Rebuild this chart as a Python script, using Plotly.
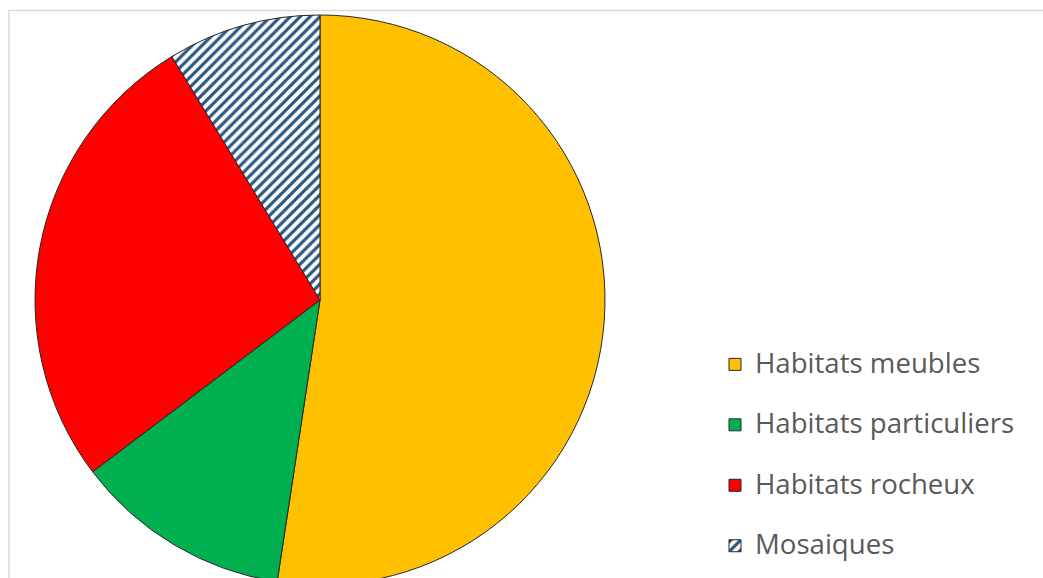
import plotly.graph_objects as go

categories = ["Habitats meubles", "Habitats particuliers", "Habitats rocheux", "Mosaiques"]
values = [52.4, 12.3, 26.6, 8.7]
colors = ["#FFC000", "#00B050", "#FF0000", "#FFFFFF"]
patterns = ["", "", "", "/"]

W, H = 1043, 590          # canvas a bit taller than the window: the pie is cut at the bottom
cx, cy, r = 320, 300, 285  # pie centre / radius in pixels

labels = [f"<span style='font-size:27.6px'>{c}</span><br> " for c in categories]

fig = go.Figure()
fig.add_trace(go.Pie(
    labels=labels,
    values=values,
    sort=False,
    direction="clockwise",
    rotation=0,
    textinfo="none",
    hoverinfo="percent",
    marker=dict(
        colors=colors,
        line=dict(color="#262626", width=1),
        pattern=dict(shape=patterns, fgcolor="#2A5683", bgcolor="#FFFFFF",
                     size=7, solidity=0.45, fillmode="replace"),
    ),
    domain=dict(x=[(cx - r) / W, (cx + r) / W],
                y=[1 - (cy + r) / H, 1 - (cy - r) / H]),
))

fig.add_shape(type="rect", xref="paper", yref="paper",
              x0=9 / W, x1=1.02, y0=-0.02, y1=1 - 10.5 / H,
              line=dict(color="#D9D9D9", width=1.5), fillcolor="rgba(0,0,0,0)",
              layer="below")

fig.update_layout(
    width=W, height=H,
    margin=dict(l=0, r=0, t=0, b=0, autoexpand=False),
    paper_bgcolor="white",
    plot_bgcolor="white",
    showlegend=True,
    legend=dict(
        x=715 / W, xanchor="left",
        y=1 - 343.5 / H, yanchor="top",
        valign="top",
        font=dict(family="Open Sans", size=22.1, color="#595959"),
        bgcolor="rgba(0,0,0,0)",
    ),
)

post = ("document.documentElement.style.overflow='hidden';"
        "document.body.style.margin='0';document.body.style.overflow='hidden';")
fig.write_html("out.html", post_script=post, config={"displayModeBar": False})
